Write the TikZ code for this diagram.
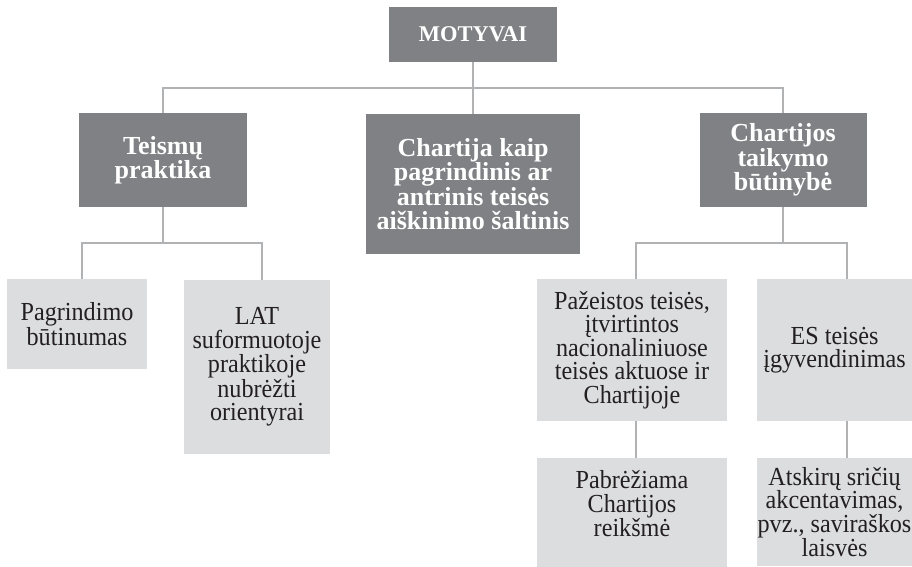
\documentclass[tikz,border=0pt]{standalone}
\usepackage{fontspec}
\setmainfont{Liberation Serif}
\newfontfamily\boxfont[FakeStretch=0.93]{Liberation Serif}
\definecolor{darkbox}{HTML}{808184}
\definecolor{lightbox}{HTML}{DCDDDE}
\definecolor{linec}{HTML}{B1B2B4}
\definecolor{txt}{HTML}{231F20}
\tikzset{
  topbox/.style={fill=darkbox, text=white, font=\fontsize{26}{24.4}\selectfont\bfseries, align=center, inner sep=0pt},
  subbox/.style={fill=lightbox, text=txt, font=\boxfont\fontsize{26}{23.5}\selectfont, align=center, inner sep=0pt},
  conn/.style={draw=linec, line width=2.6pt}
}
\begin{document}
\begin{tikzpicture}[x=1pt,y=-1pt]
\fill[white] (0,0) rectangle (912,566);
\useasboundingbox (0,0) rectangle (912,566);

% top level
\node[topbox, font=\fontsize{22.5}{24}\selectfont\bfseries, minimum width=168pt, minimum height=55pt] (mot) at (473,34.5) {MOTYVAI};

\node[topbox, minimum width=168pt, minimum height=94pt] (tp) at (163,160) {Teismų\\praktika};
\node[topbox, minimum width=214pt, minimum height=140pt] (ch) at (473,184) {Chartija kaip\\pagrindinis ar\\antrinis teisės\\aiškinimo šaltinis};
\node[topbox, minimum width=167pt, minimum height=94pt] (ct) at (783,160) {Chartijos\\taikymo\\būtinybė};

% second level
\node[subbox, minimum width=140pt, minimum height=90pt] (pb) at (77,324) {Pagrindimo\\būtinumas};
\node[subbox, minimum width=146pt, minimum height=174pt] (lat) at (257,367) {LAT\\suformuotoje\\praktikoje\\nubrėžti\\orientyrai};
\node[subbox, minimum width=190pt, minimum height=142pt] (pz) at (632,350) {Pažeistos teisės,\\įtvirtintos\\nacionaliniuose\\teisės aktuose ir\\Chartijoje};
\node[subbox, minimum width=155pt, minimum height=142pt] (es) at (834.5,350) {ES teisės\\įgyvendinimas};

% third level
\node[subbox, minimum width=190pt, minimum height=92pt] (pr) at (632,504) {Pabrėžiama\\Chartijos\\reikšmė};
\fill[lightbox] (pr.south west) rectangle ([yshift=-17pt]pr.south east);
\node[subbox, minimum width=155pt, minimum height=108pt] (at) at (834.5,512) {Atskirų sričių\\akcentavimas,\\pvz., saviraškos\\laisvės};

% connectors
\coordinate (j0) at (473,88);
\coordinate (j1) at (163,243);
\coordinate (j2) at (783,243);
\draw[conn] (mot) -- (j0);
\draw[conn] (tp.north) |- (j0) -| (ct.north);
\draw[conn] (j0) -- (ch.north);

\draw[conn] (tp) -- (j1);
\draw[conn] ([xshift=5pt]pb.north) |- (j1) -| ([xshift=5pt]lat.north);

\draw[conn] (ct) -- (j2);
\draw[conn] ([xshift=4pt]pz.north) |- (j2) -| ([xshift=12.5pt]es.north);

\draw[conn] ([xshift=4pt]pz.south) -- ([xshift=4pt]pr.north);
\draw[conn] ([xshift=12.5pt]es.south) -- ([xshift=12.5pt]at.north);
\end{tikzpicture}
\end{document}
